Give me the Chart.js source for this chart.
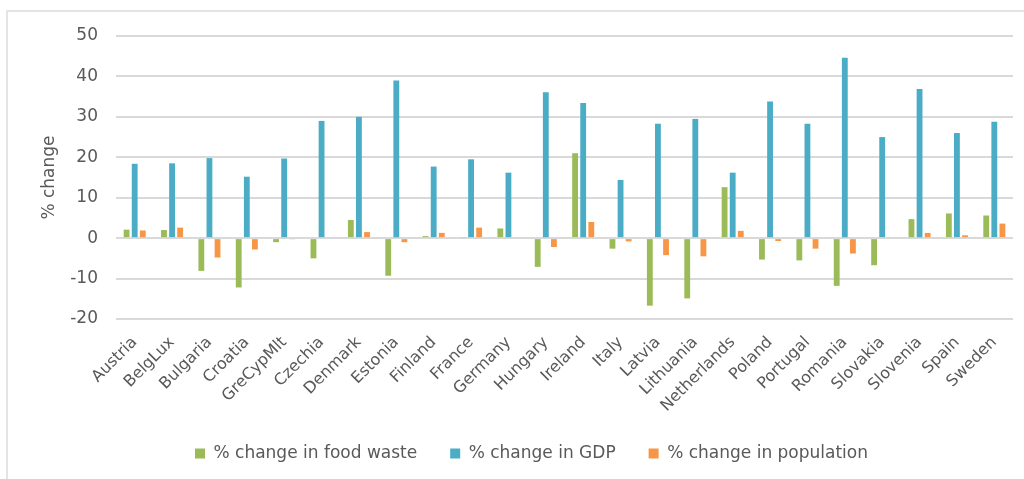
<!DOCTYPE html>
<html>
<head>
<meta charset="utf-8">
<script src="https://cdn.jsdelivr.net/npm/chart.js@4.4.1/dist/chart.umd.min.js"></script>
<style>
  html, body { margin: 0; padding: 0; background: #fff; overflow: hidden; }
  #frame { position: absolute; left: 6px; top: 10px; width: 1100px; height: 600px; border: 2px solid #e4e4e4; }
  #wrap { position: absolute; left: 0; top: 0; width: 1024px; height: 479px; }
</style>
</head>
<body>
<div id="frame"></div>
<div id="wrap"><canvas id="wasteChart"></canvas></div>
<script>
// countries / country groups
const countries = ['Austria', 'BelgLux', 'Bulgaria', 'Croatia', 'GreCypMlt', 'Czechia', 'Denmark', 'Estonia',
  'Finland', 'France', 'Germany', 'Hungary', 'Ireland', 'Italy', 'Latvia', 'Lithuania', 'Netherlands',
  'Poland', 'Portugal', 'Romania', 'Slovakia', 'Slovenia', 'Spain', 'Sweden'];

const foodWaste = [2.1, 2.0, -8.1, -12.2, -1.0, -5.0, 4.5, -9.3, 0.5, 0.2, 2.4, -7.1, 21.0, -2.6, -16.7,
  -14.9, 12.6, -5.3, -5.5, -11.8, -6.7, 4.7, 6.1, 5.6];
const gdp = [18.4, 18.5, 19.8, 15.2, 19.7, 29.0, 30.0, 39.0, 17.7, 19.5, 16.2, 36.1, 33.4, 14.4, 28.3,
  29.5, 16.2, 33.8, 28.3, 44.6, 25.0, 36.9, 26.0, 28.8];
const population = [1.9, 2.6, -4.8, -2.8, -0.3, 0, 1.5, -1.0, 1.3, 2.6, 0, -2.2, 4.0, -0.8, -4.2,
  -4.5, 1.8, -0.7, -2.6, -3.8, 0, 1.3, 0.7, 3.6];

const yTicks = [-20, -10, 0, 10, 20, 30, 40, 50];

const textColor = '#595959';
const fontFamily = '"DejaVu Sans", sans-serif';

function makeSet(label, data, color) {
  return {
    label: label,
    data: data,
    backgroundColor: color,
    borderWidth: 0,
    categoryPercentage: 0.65,
    barPercentage: 0.72
  };
}

const ctx = document.getElementById('wasteChart').getContext('2d');
new Chart(ctx, {
  type: 'bar',
  data: {
    labels: countries,
    datasets: [
      makeSet('% change in food waste', foodWaste, '#9bbb59'),
      makeSet('% change in GDP', gdp, '#4bacc6'),
      makeSet('% change in population', population, '#f79646')
    ]
  },
  options: {
    responsive: true,
    maintainAspectRatio: false,
    animation: false,
    // left padding keeps the legend centred a little right of the canvas middle
    layout: { padding: { top: 36, right: 11, bottom: 7, left: 50 } },
    plugins: {
      tooltip: { enabled: false },
      legend: {
        position: 'bottom',
        labels: {
          boxWidth: 10,
          boxHeight: 10,
          padding: 33,
          color: textColor,
          font: { family: fontFamily, size: 17 }
        }
      }
    },
    scales: {
      x: {
        grid: { display: false },
        border: { display: false },
        ticks: {
          color: textColor,
          font: { family: fontFamily, size: 16 },
          maxRotation: 45,
          minRotation: 45,
          padding: 6,
          autoSkip: false
        },
        afterFit: function(scale) { scale.height = 93; }
      },
      y: {
        min: -20,
        max: 50,
        afterBuildTicks: function(scale) {
          scale.ticks = yTicks.map(v => ({ value: v }));
        },
        grid: { color: '#d9d9d9', lineWidth: 2, drawTicks: false },
        border: { display: false },
        ticks: {
          color: textColor,
          font: { family: fontFamily, size: 17 },
          padding: 18
        },
        title: {
          display: true,
          text: '% change',
          color: textColor,
          font: { family: fontFamily, size: 17 },
          padding: { top: -11, bottom: 0 }
        },
        afterFit: function(scale) { scale.width = 66; }
      }
    }
  }
});
</script>
</body>
</html>
